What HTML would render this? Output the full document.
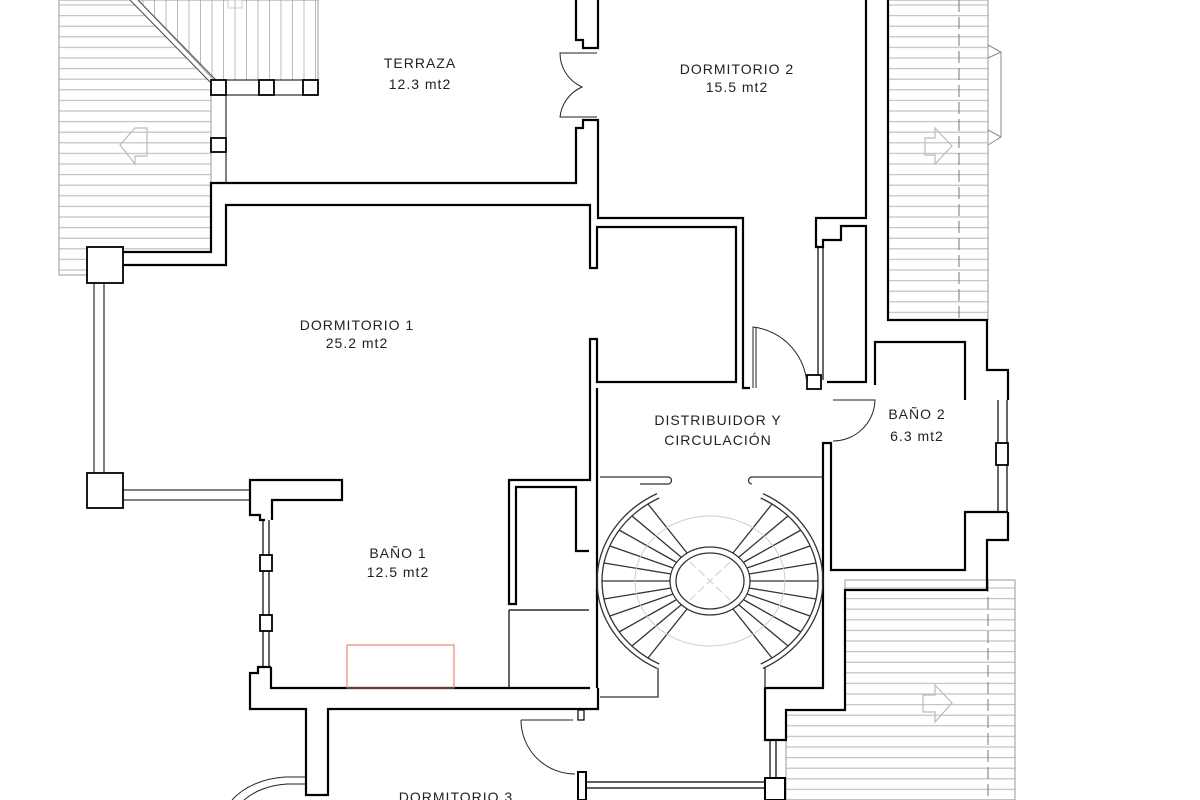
<!DOCTYPE html>
<html><head><meta charset="utf-8"><style>
html,body{margin:0;padding:0;background:#fff;}
svg{display:block;}
text{font-family:"Liberation Sans",sans-serif;font-size:14px;fill:#222;text-anchor:middle;letter-spacing:1px;}
</style></head><body>
<svg width="1200" height="800" viewBox="0 0 1200 800" xmlns="http://www.w3.org/2000/svg">
<defs>
<pattern id="hh" width="20" height="10.6" patternUnits="userSpaceOnUse"><line x1="0" y1="5" x2="20" y2="5" stroke="#bbb" stroke-width="1"/></pattern>
<pattern id="hv" width="11.5" height="20" patternUnits="userSpaceOnUse"><line x1="5" y1="0" x2="5" y2="20" stroke="#bbb" stroke-width="1"/></pattern>
</defs>
<rect width="1200" height="800" fill="#fff"/>
<!-- roofs -->
<polygon points="59,0 130,0 211,83 211,252 123,252 123,275 59,275" fill="url(#hh)" stroke="#999" stroke-width="1"/>
<polygon points="138,0 318,0 318,80 214,80" fill="url(#hv)" stroke="#999" stroke-width="1"/>
<line x1="130" y1="0" x2="211" y2="83" stroke="#555" stroke-width="1"/>
<line x1="138" y1="0" x2="216" y2="80" stroke="#555" stroke-width="1"/>
<rect x="228" y="0" width="14" height="8" fill="none" stroke="#ccc"/>
<rect x="888" y="0" width="100" height="320" fill="url(#hh)" stroke="#999" stroke-width="1"/>
<line x1="959" y1="0" x2="959" y2="320" stroke="#777" stroke-dasharray="12,5"/>
<polyline points="988,45 1001,52 1001,137 988,145" fill="none" stroke="#888"/>
<line x1="988" y1="58" x2="1001" y2="52" stroke="#888"/><line x1="988" y1="130" x2="1001" y2="137" stroke="#888"/>
<polygon points="845,580 1015,580 1015,800 786,800 786,710 845,710" fill="url(#hh)" stroke="#999" stroke-width="1"/>
<line x1="988" y1="580" x2="988" y2="800" stroke="#777" stroke-dasharray="12,5"/>
<!-- arrows -->
<g fill="none" stroke="#bbb" stroke-width="1.2">
<polygon points="147,136 147,128 135,128 120,145 135,164 135,156 147,156"/>
<polygon points="925,138 935,138 935,128 952,146 935,164 935,155 925,155"/>
<polygon points="923,695 935,695 935,685 952,703 935,722 935,712 923,712"/>
</g>
<!-- posts & rails -->
<g fill="#fff" stroke="#000" stroke-width="1.8">
<line x1="226" y1="80" x2="318" y2="80" stroke-width="1"/><line x1="226" y1="95" x2="318" y2="95" stroke-width="1"/>
<line x1="226" y1="95" x2="226" y2="183" stroke-width="1"/>
<rect x="211" y="80" width="15" height="15"/><rect x="259" y="80" width="15" height="15"/><rect x="303" y="80" width="15" height="15"/>
<rect x="211" y="138" width="15" height="14"/>
<line x1="94" y1="283" x2="94" y2="473" stroke-width="1"/><line x1="104" y1="283" x2="104" y2="473" stroke-width="1"/>
<line x1="123" y1="490" x2="250" y2="490" stroke-width="1"/><line x1="123" y1="500" x2="250" y2="500" stroke-width="1"/>
<rect x="87" y="247" width="36" height="36"/><rect x="87" y="473" width="36" height="35"/>
</g>
<!-- walls -->
<g fill="none" stroke="#000" stroke-width="2.2">
<path d="M123,252 H211 V183 H576 V128 H583 V120 H598 V218 H743 V388 H750"/>
<path d="M123,265 H226 V205 H590 V268 H597 V227 H736 V382 H597 V339 H590 V480 H509 V604 H516 V487 H576 V551 H589"/>
<path d="M597,388 V688"/>
<path d="M576,0 V40 H583 V48 H598 V0"/>
<path d="M265,520 H260 V515 H250 V480 H342 V500 H272 V520"/>
<path d="M271,667 V688 H590"/>
<path d="M271,667 H258 V673 H250 V709 H306 V795 H328 V709 H598 V688"/>
<path d="M866,0 V218 H816 V247 H823 V240 H841 V226 H866 V382 H827"/>
<path d="M888,0 V320 H987 V370 H1008 V400"/>
<path d="M875,385 V342 H965 V400"/>
<path d="M1008,512 H965 V570 H831 V443 H823 V688 H765 V740 H786 V710 H845 V590 H987 V540 H1008 V512"/>
</g>
<g fill="none" stroke="#000" stroke-width="1.2">
<path d="M509,610 H589 M509,610 V688"/>
<line x1="818" y1="247" x2="818" y2="380"/><line x1="823" y1="247" x2="823" y2="380"/>
<line x1="998" y1="400" x2="998" y2="512"/><line x1="1007" y1="400" x2="1007" y2="512"/>
<rect x="996" y="443" width="12" height="22" fill="#fff" stroke-width="1.8"/>
<line x1="263" y1="520" x2="263" y2="667"/><line x1="269" y1="520" x2="269" y2="667"/>
<rect x="260" y="555" width="12" height="16" fill="#fff" stroke-width="1.8"/>
<rect x="260" y="615" width="12" height="16" fill="#fff" stroke-width="1.8"/>
<line x1="770" y1="740" x2="770" y2="780"/><line x1="776" y1="740" x2="776" y2="780"/>
<line x1="585" y1="782" x2="765" y2="782"/><line x1="585" y1="788" x2="765" y2="788"/>
<rect x="765" y="778" width="20" height="22" fill="#fff" stroke-width="2"/>
<rect x="578" y="772" width="8" height="28" fill="#fff" stroke-width="2"/>
<rect x="578" y="710" width="6" height="10" fill="#fff"/>
<rect x="807" y="375" width="14" height="14" fill="#fff" stroke-width="1.8"/>
</g>
<!-- doors -->
<g fill="none" stroke="#222" stroke-width="1">
<path d="M597,53 H560 A37 37 0 0 0 582,87 A37 37 0 0 0 560,117 H597"/>
<path d="M753,388 V327 A61 61 0 0 1 807,388"/>
<line x1="756" y1="327" x2="756" y2="388"/>
<path d="M833,400 H875 A42 42 0 0 1 833,441"/>
<path d="M521,720 H573 M521,720 A54 54 0 0 0 575,774"/>
<path d="M306,777 H285 A70 50 0 0 0 232,800"/>
<path d="M306,784 H287 A62 44 0 0 0 244,800"/>
</g>
<rect x="347" y="645" width="107" height="43" fill="none" stroke="#e0705a" stroke-width="1"/>
<!-- stairs -->
<g fill="none" stroke="#333" stroke-width="1.3">
<ellipse cx="710" cy="581" rx="40" ry="34"/>
<ellipse cx="710" cy="581" rx="34" ry="28"/>
<path d="M760.7,498 A108 94 0 0 1 760.7,664"/>
<path d="M763,493.6 A113 99 0 0 1 763,668.4"/>
<path d="M659.3,498 A108 94 0 0 0 659.3,664"/>
<path d="M657,493.6 A113 99 0 0 0 657,668.4"/>
<path d="M600,477 H668 a3.5 3.5 0 0 1 0 7 H640 M752,484 a3.5 3.5 0 0 1 0 -7 H823"/>
<path d="M600,697 H658 V668 M765,688 V668"/>
<path d="M750,581 H818 M749,574 L816,563 M749,588 L816,599 M747,568 L810,546 M747,594 L810,616 M744,562 L801,530 M744,600 L801,632 M739,557 L788,516 M739,605 L788,646 M733,553 L772,504 M733,609 L772,658"/>
<path d="M670,581 H602 M671,574 L604,563 M671,588 L604,599 M673,568 L610,546 M673,594 L610,616 M676,562 L619,530 M676,600 L619,632 M681,557 L632,516 M681,605 L632,646 M687,553 L648,504 M687,609 L648,658"/>
</g>
<g fill="none" stroke="#ccc" stroke-width="1">
<ellipse cx="710" cy="581" rx="75" ry="65"/>
<path d="M690,562 L730,600 M730,562 L690,600" stroke-dasharray="8,4"/>
</g>
<!-- labels -->
<text x="420" y="68">TERRAZA</text><text x="420" y="89">12.3 mt2</text>
<text x="737" y="74">DORMITORIO 2</text><text x="737" y="92">15.5 mt2</text>
<text x="357" y="330">DORMITORIO 1</text><text x="357" y="348">25.2 mt2</text>
<text x="718" y="425">DISTRIBUIDOR Y</text><text x="718" y="445">CIRCULACIÓN</text>
<text x="917" y="419">BAÑO 2</text><text x="917" y="441">6.3 mt2</text>
<text x="398" y="558">BAÑO 1</text><text x="398" y="577">12.5 mt2</text>
<text x="456" y="802">DORMITORIO 3</text>
</svg>
</body></html>
